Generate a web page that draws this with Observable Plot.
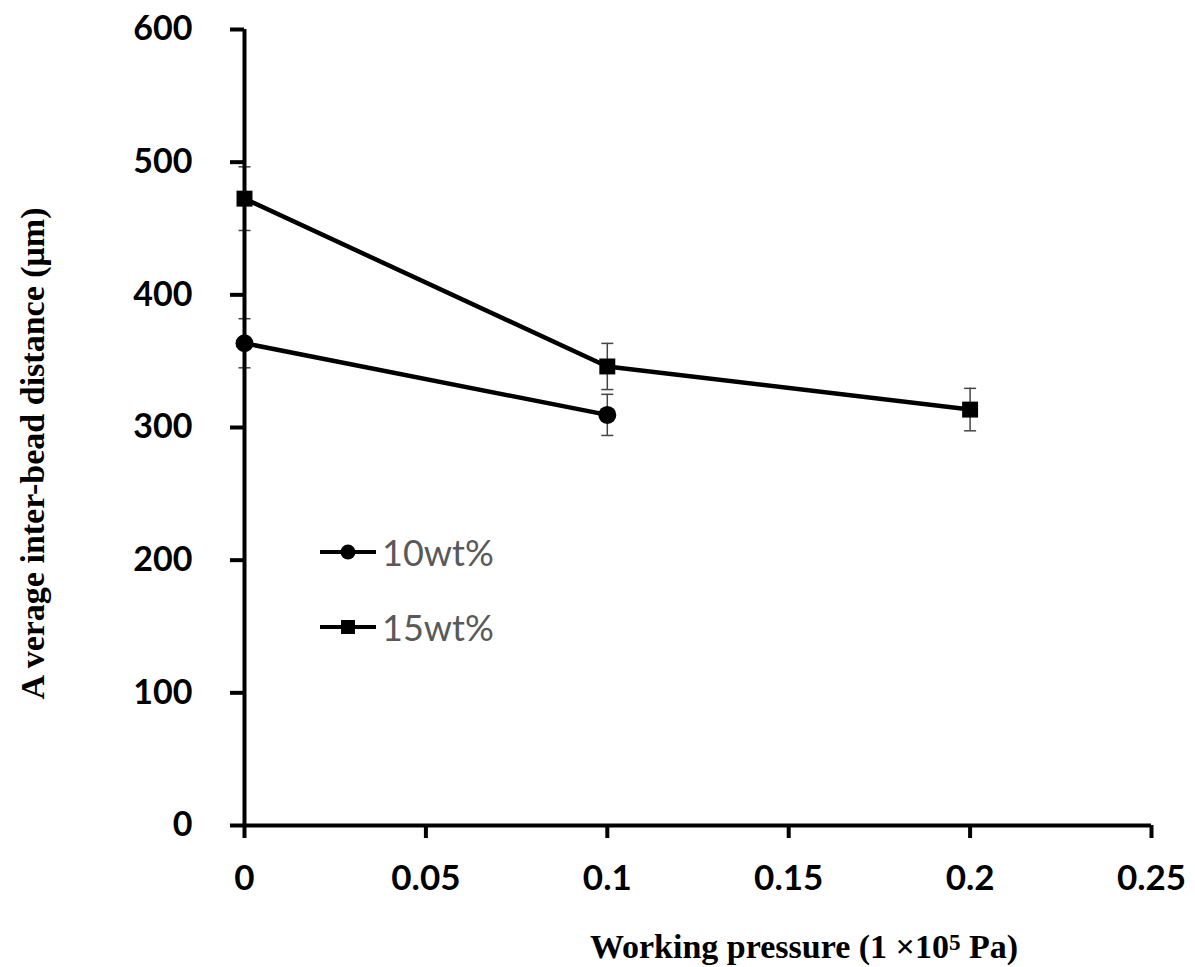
<!DOCTYPE html>
<html>
<head>
<meta charset="utf-8">
<script src="https://cdn.jsdelivr.net/npm/d3@7"></script>
<script src="https://cdn.jsdelivr.net/npm/@observablehq/plot@0.6"></script>
<style>
  html, body { margin: 0; padding: 0; background: #fff; }
  #wrap { position: relative; width: 1195px; height: 967px; }
  .legend { position: absolute; left: 320px; font-family: Lato, sans-serif; font-size: 36px; color: #595959; display: flex; align-items: center; }
  .legend svg { display: block; margin-right: 6px; }
</style>
</head>
<body>
<div id="wrap"></div>
<script>
// ---- data ----
const series = ["10wt%", "15wt%"];
const x10 = [0, 0.1];
const y10 = [363.5, 309.5];
const e10 = [18.5, 15.5];
const x15 = [0, 0.1, 0.2];
const y15 = [472.5, 346, 313.5];
const e15 = [24, 17.4, 16];
const xTicks = [0, 0.05, 0.1, 0.15, 0.2, 0.25];
const xTickLabels = ["0", "0.05", "0.1", "0.15", "0.2", "0.25"];
const yTicks = [0, 100, 200, 300, 400, 500, 600];
const xTitleMain = "Working pressure (1 \u00d710";
const xTitleSup = "5";
const xTitleEnd = " Pa)";
const yTitle = "A verage inter-bead distance (\u03bcm)";

const rows = [
  ...x10.map((x, i) => ({series: series[0], x, y: y10[i], e: e10[i]})),
  ...x15.map((x, i) => ({series: series[1], x, y: y15[i], e: e15[i]}))
];

const capSymbol = {
  draw(ctx) { ctx.moveTo(-6, 0); ctx.lineTo(6, 0); }
};

const serif = "'Liberation Serif', 'Times New Roman', serif";
const fullXTitle = xTitleMain + xTitleSup + xTitleEnd;
const W = 1195, H = 967;
const chart = Plot.plot({
  width: W,
  height: H,
  marginLeft: 244,
  marginRight: 44,
  marginTop: 29,
  marginBottom: 142,
  style: {fontFamily: "Lato, sans-serif", fontWeight: "bold", color: "#000", background: "#fff"},
  x: {domain: [0, 0.25]},
  y: {domain: [0, 600]},
  marks: [
    // error bars
    Plot.ruleX(rows, {x: "x", y1: d => d.y - d.e, y2: d => d.y + d.e, stroke: "#444", strokeWidth: 1.5}),
    Plot.dot(rows, {x: "x", y: d => d.y - d.e, symbol: capSymbol, stroke: "#444", strokeWidth: 1.5, fill: "none"}),
    Plot.dot(rows, {x: "x", y: d => d.y + d.e, symbol: capSymbol, stroke: "#444", strokeWidth: 1.5, fill: "none"}),
    // axes
    Plot.axisY({ticks: yTicks, tickSize: 14, tickPadding: 38, fontSize: 34, fontWeight: "bold", fontFamily: "Lato, sans-serif", strokeWidth: 4, label: null}),
    Plot.axisX({ticks: xTicks, tickFormat: (d, i) => xTickLabels[i], tickSize: 13, tickPadding: 27, fontSize: 35, fontWeight: "bold", fontFamily: "Lato, sans-serif", strokeWidth: 4, label: null}),
    Plot.ruleX([0], {stroke: "#000", strokeWidth: 4}),
    Plot.ruleY([0], {stroke: "#000", strokeWidth: 4}),
    // lines
    Plot.line(rows, {x: "x", y: "y", z: "series", stroke: "#000", strokeWidth: 4.5}),
    Plot.dot(rows.filter(d => d.series === series[0]), {x: "x", y: "y", symbol: "circle", r: 9, fill: "#000"}),
    Plot.dot(rows.filter(d => d.series === series[1]), {x: "x", y: "y", symbol: "square", r: 9, fill: "#000"}),
    // titles
    Plot.text([fullXTitle], {frameAnchor: "bottom", lineAnchor: "middle", textAnchor: "middle", dx: 106, dy: 122, text: d => d, fontFamily: serif, fontWeight: "bold", fontSize: 34, fill: "#000"}),
    Plot.text([yTitle], {frameAnchor: "left", rotate: -90, textAnchor: "middle", lineAnchor: "middle", dx: -211, dy: 26, text: d => d, fontFamily: serif, fontWeight: "bold", fontSize: 34, fill: "#000"})
  ]
});
const wrap = document.getElementById("wrap");
wrap.appendChild(chart);

// thicker axis ticks
d3.select(chart).selectAll('g[aria-label="x-axis tick"], g[aria-label="y-axis tick"]').attr("stroke-width", 4);
d3.select(chart).selectAll('g[aria-label="x-axis tick"] path, g[aria-label="y-axis tick"] path').attr("stroke-width", 4);

// superscript in x title
d3.select(chart).selectAll("text").each(function() {
  if (this.textContent !== fullXTitle) return;
  const t = d3.select(this);
  t.text(null);
  t.append("tspan").text(xTitleMain);
  t.append("tspan").attr("dy", "-0.38em").attr("font-size", "0.68em").text(xTitleSup);
  t.append("tspan").attr("dy", "0.26em").text(xTitleEnd);
});

// legend
const legendY = [552, 627];
series.forEach((s, i) => {
  const div = document.createElement("div");
  div.className = "legend";
  div.style.top = (legendY[i] - 25) + "px";
  div.style.height = "50px";
  const marker = i === 0
    ? '<circle cx="28" cy="25" r="7.5" fill="#000"/>'
    : '<rect x="21" y="18" width="14" height="14" fill="#000"/>';
  div.innerHTML = `<svg width="56" height="50"><line x1="0" y1="25" x2="56" y2="25" stroke="#000" stroke-width="4"/>${marker}</svg><span>${s}</span>`;
  wrap.appendChild(div);
});
</script>
</body>
</html>
